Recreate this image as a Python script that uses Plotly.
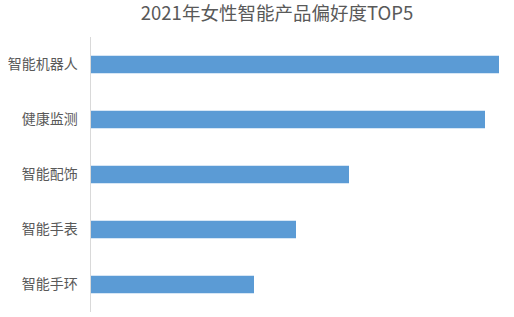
import plotly.graph_objects as go

categories = ["智能机器人", "健康监测", "智能配饰", "智能手表", "智能手环"]
values = [40.8, 39.4, 25.8, 20.5, 16.3]
title_text = "2021年女性智能产品偏好度TOP5"

fig = go.Figure(go.Bar(
    y=categories, x=values, orientation="h",
    marker=dict(color="#5B9BD5", line=dict(width=0)),
    width=0.32,
))

fig.update_layout(
    width=514, height=317,
    margin=dict(l=91, r=15, t=37, b=5),
    paper_bgcolor="white", plot_bgcolor="white",
    font=dict(family="Noto Sans CJK SC", color="#595959"),
    showlegend=False,
    title=dict(text=title_text, x=277/514, xanchor="center", xref="container",
               y=1 - 14/317, yanchor="middle", yref="container",
               font=dict(size=18.5, color="#595959", family="Noto Sans CJK SC")),
    xaxis=dict(range=[0, 40.8], visible=False, fixedrange=True),
    yaxis=dict(autorange="reversed", showline=True, linecolor="#d9d9d9", linewidth=1,
               ticks="", tickfont=dict(size=14, color="#595959"), showgrid=False),
)
fig.update_yaxes(ticksuffix="   ")

fig.write_html("out.html")
